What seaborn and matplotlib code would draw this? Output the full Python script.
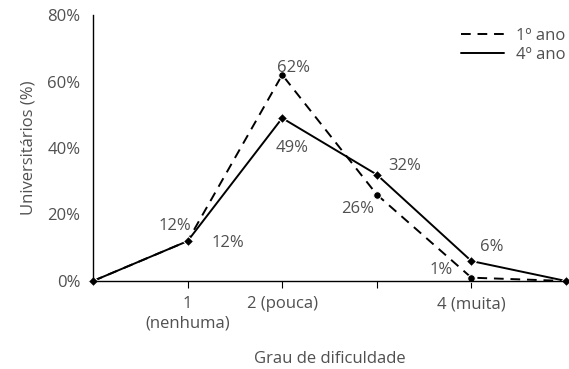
import matplotlib
matplotlib.use("Agg")
import matplotlib.pyplot as plt
import seaborn as sns
import pandas as pd

positions = [0, 1, 2, 3, 4, 5]
tick_positions = [1, 2, 3, 4]
tick_labels = ["1\n(nenhuma)", "2 (pouca)", "", "4 (muita)"]
ano1 = [0, 12, 62, 26, 1, 0]
ano4 = [0, 12, 49, 32, 6, 0]
series_names = ["1º ano", "4º ano"]

df = pd.DataFrame({
    "x": positions * 2,
    "y": ano1 + ano4,
    "serie": [series_names[0]] * len(ano1) + [series_names[1]] * len(ano4),
})

sns.set_style("white")
plt.rcParams["font.family"] = ["Open Sans", "DejaVu Sans"]
grey = "#505050"
fs = 12

fig = plt.figure(figsize=(5.69, 3.69), dpi=100)
ax = fig.add_axes([93 / 569, 88 / 369, 473 / 569, 266 / 369])

sns.lineplot(data=df, x="x", y="y", hue="serie", style="serie",
             palette={series_names[0]: "black", series_names[1]: "black"},
             dashes={series_names[0]: (5, 3.5), series_names[1]: ""},
             markers={series_names[0]: "o", series_names[1]: "D"},
             markersize=5.5, linewidth=1.4, ax=ax, clip_on=False)

# annotations (offsets in pixels)
offs1 = [None, (-13, 15), (11, 7), (-19, -14), (-30, 8), None]
offs4 = [None, (40, -2), (10, -30), (28, 9), (20, 14), None]
for vals, offs in ((ano1, offs1), (ano4, offs4)):
    for x, v, o in zip(positions, vals, offs):
        if o is None:
            continue
        ax.annotate(f"{v}%", (x, v), xytext=o, textcoords="offset pixels",
                    ha="center", va="center", fontsize=fs, color=grey)

ax.set_xlim(0, 5)
ax.set_ylim(0, 80)
ax.set_yticks([0, 20, 40, 60, 80])
ax.set_yticklabels([f"{t}%" for t in [0, 20, 40, 60, 80]], color=grey, fontsize=fs)
ax.set_xticks(tick_positions)
ax.set_xticklabels(tick_labels, color=grey, fontsize=fs, linespacing=1.3)
ax.tick_params(axis="x", direction="out", length=5, width=0.8, color="black", pad=6, bottom=True)
ax.tick_params(axis="y", length=0, pad=9)
ax.set_xlabel("Grau de dificuldade", color=grey, fontsize=fs, labelpad=14)
ax.set_ylabel("Universitários (%)", color=grey, fontsize=fs, labelpad=8)

for s in ["top", "right"]:
    ax.spines[s].set_visible(False)
for s in ["left", "bottom"]:
    ax.spines[s].set_color("black")
    ax.spines[s].set_linewidth(1.0)

leg = ax.legend(loc="upper right", frameon=False, fontsize=fs, handlelength=2.6,
                bbox_to_anchor=(1.02, 0.99), borderaxespad=0.2, labelspacing=0.2,
                handletextpad=0.7)
for h in leg.legend_handles:
    h.set_marker("")
for t in leg.get_texts():
    t.set_color(grey)

fig.savefig("out.png", dpi=100)
